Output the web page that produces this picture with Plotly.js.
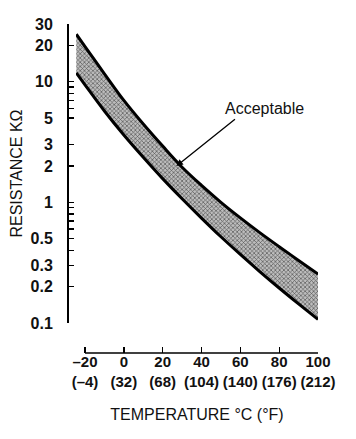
<!DOCTYPE html>
<html>
<head>
<meta charset="utf-8">
<script src="https://cdn.plot.ly/plotly-3.0.1.min.js"></script>
<style>html,body{margin:0;padding:0;background:#fff;}#chart{width:356px;height:439px;}</style>
</head>
<body>
<div id="chart"></div>
<script>
// Temperature (°C) sample points along the band
const temperatureC = [-24.5, -20, -10, 0, 10, 20, 30, 40, 50, 60, 70, 80, 90, 100];
// Upper limit of acceptable resistance (kΩ)
const upperKOhm = [24.7, 19.5, 11.6, 6.98, 4.45, 2.92, 1.95, 1.38, 1.00, 0.743, 0.561, 0.429, 0.330, 0.254];
// Lower limit of acceptable resistance (kΩ)
const lowerKOhm = [11.8, 9.4, 5.71, 3.61, 2.36, 1.57, 1.07, 0.740, 0.518, 0.370, 0.267, 0.195, 0.144, 0.107];

// Axis ticks
const xTickVals = [-20, 0, 20, 40, 60, 80, 100];
const xTickText = ['\u201320<br>(\u20134)', '0<br>(32)', '20<br>(68)', '40<br>(104)', '60<br>(140)', '80<br>(176)', '100<br>(212)'];
const yTickVals = [30, 20, 10, 9, 8, 7, 6, 5, 3, 2, 1, 0.9, 0.8, 0.7, 0.6, 0.5, 0.4, 0.3, 0.2, 0.1];
const yTickText = ['30', '20', '10', '', '', '', '', '5', '3', '2', '1', '', '', '', '', '0.5', '', '0.3', '0.2', '0.1'];

const FONT = 'Liberation Sans, Arial, Helvetica, sans-serif';

const traces = [
  {
    x: temperatureC, y: lowerKOhm, type: 'scatter', mode: 'lines',
    line: {color: '#000', width: 3, shape: 'spline'},
    hoverinfo: 'skip', showlegend: false
  },
  {
    x: temperatureC, y: upperKOhm, type: 'scatter', mode: 'lines',
    line: {color: '#000', width: 3, shape: 'spline'},
    fill: 'tonexty', fillcolor: '#a8a8a8',
    fillpattern: {shape: 'x', fgcolor: '#555555', bgcolor: '#bdbdbd', size: 3, solidity: 0.4},
    hoverinfo: 'skip', showlegend: false
  }
];

const layout = {
  width: 356, height: 439,
  margin: {l: 67, r: 38, t: 24, b: 86},
  paper_bgcolor: '#fff', plot_bgcolor: '#fff',
  font: {family: FONT, color: '#000'},
  xaxis: {
    range: [-24.64, 100], domain: [0.0359, 1],
    anchor: 'free', position: 0,
    showline: false, showgrid: false, zeroline: false,
    tickmode: 'array', tickvals: xTickVals, ticktext: xTickText,
    ticks: 'inside', ticklen: 6, tickwidth: 1.3, tickcolor: '#000',
    tickangle: 0,
    tickfont: {family: FONT, size: 15, weight: 'bold', color: '#111'},
    ticklabelstandoff: -2,
    title: {text: 'TEMPERATURE \u00b0C (\u00b0F)', font: {family: FONT, size: 16, color: '#111'}, standoff: 20}
  },
  yaxis: {
    type: 'log', range: [-1, Math.log10(30)], domain: [0.0912, 1],
    anchor: 'free', position: 0,
    showline: true, linecolor: '#000', linewidth: 1.5,
    showgrid: false, zeroline: false,
    tickmode: 'array', tickvals: yTickVals, ticktext: yTickText,
    ticks: 'inside', ticklen: 5, tickwidth: 1.3, tickcolor: '#000',
    tickfont: {family: FONT, size: 16, weight: 'bold', color: '#111'},
    ticklabelstandoff: 11,
    title: {text: 'RESISTANCE K\u03a9', font: {family: FONT, size: 16, color: '#111'}, standoff: 2}
  },
  shapes: [
    {type: 'line', xref: 'paper', yref: 'paper', x0: 0.0717, x1: 1, y0: 0, y1: 0,
     line: {color: '#000', width: 1.5}}
  ],
  annotations: [
    {xref: 'x', yref: 'y', x: 72.4, y: 0.773, text: 'Acceptable', showarrow: false,
     font: {family: FONT, size: 16, color: '#111'}, xanchor: 'center', yanchor: 'middle'},
    {xref: 'x', yref: 'y', x: 27.1, y: 0.301, text: '', showarrow: true,
     ax: 60, ay: -48, arrowhead: 2, arrowsize: 1, arrowwidth: 1.3, arrowcolor: '#000', standoff: 0}
  ]
};

Plotly.newPlot('chart', traces, layout, {displayModeBar: false, staticPlot: true});
</script>
</body>
</html>
